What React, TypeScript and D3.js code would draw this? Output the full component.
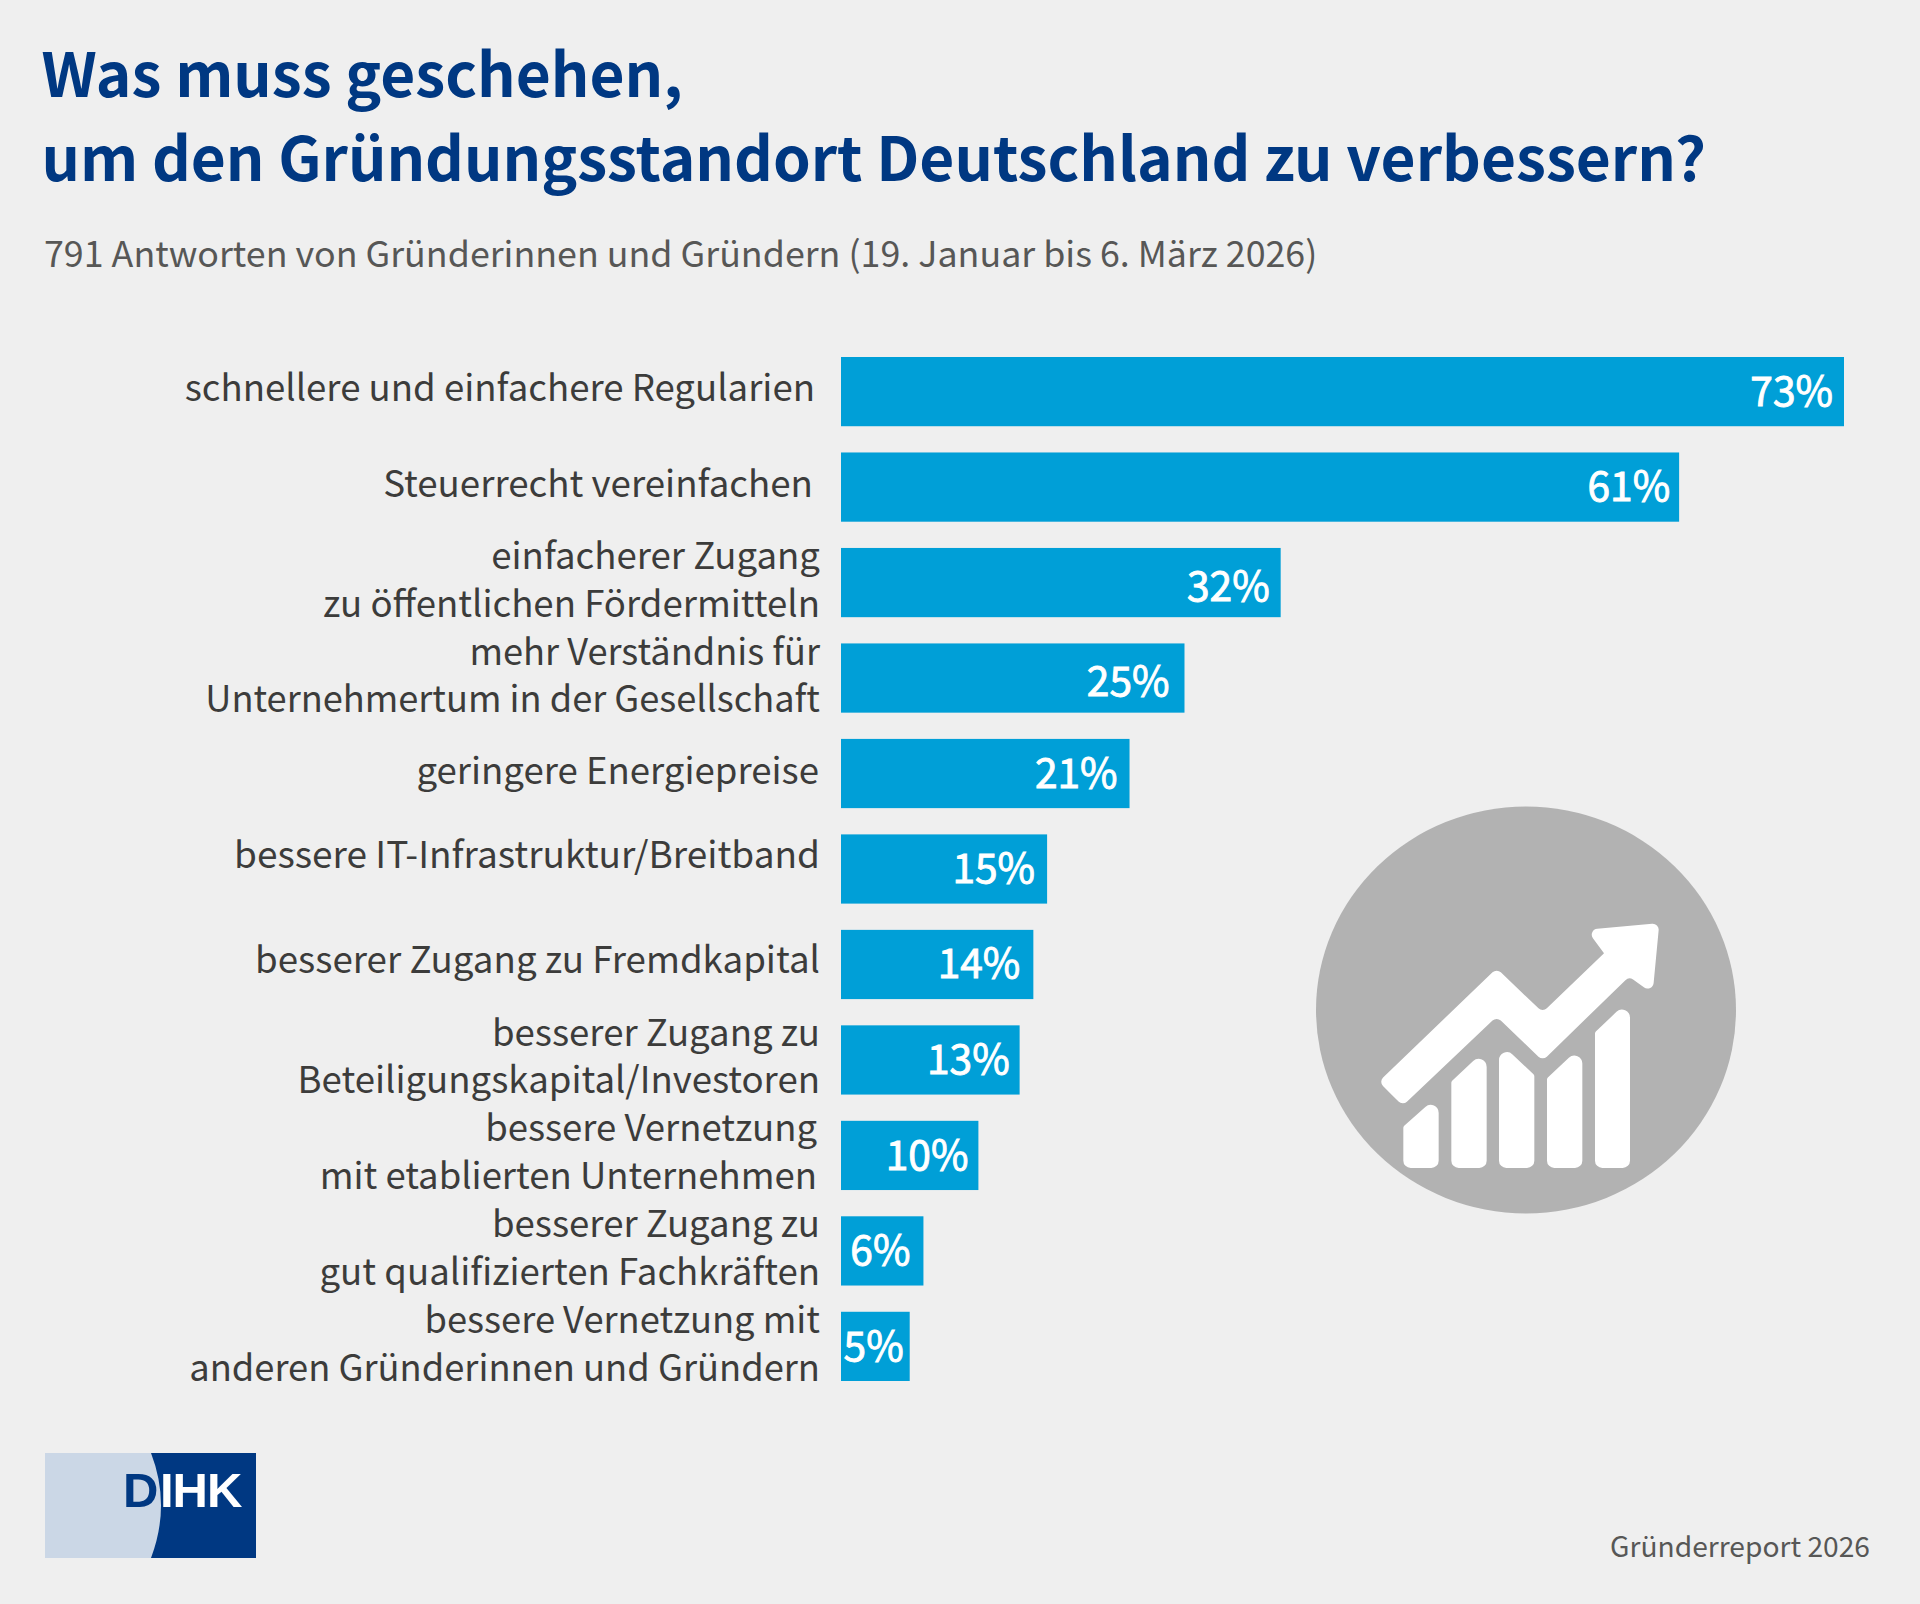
import React from 'react';
import * as d3 from 'd3';

const labels = [
  ['schnellere und einfachere Regularien'],
  ['Steuerrecht vereinfachen'],
  ['einfacherer Zugang', 'zu öffentlichen Fördermitteln'],
  ['mehr Verständnis für', 'Unternehmertum in der Gesellschaft'],
  ['geringere Energiepreise'],
  ['bessere IT-Infrastruktur/Breitband'],
  ['besserer Zugang zu Fremdkapital'],
  ['besserer Zugang zu', 'Beteiligungskapital/Investoren'],
  ['bessere Vernetzung', 'mit etablierten Unternehmen'],
  ['besserer Zugang zu', 'gut qualifizierten Fachkräften'],
  ['bessere Vernetzung mit', 'anderen Gründerinnen und Gründern'],
];
const values = [73, 61, 32, 25, 21, 15, 14, 13, 10, 6, 5];
const titleLines = ['Was muss geschehen,', 'um den Gründungsstandort Deutschland zu verbessern?'];
const subtitle = '791 Antworten von Gründerinnen und Gründern (19. Januar bis 6. März 2026)';
const source = 'Gründerreport 2026';

const font = '"Noto Sans CJK SC", "Noto Sans", sans-serif';
const logoFont = '"Liberation Sans", sans-serif';
const blue = '#009fd7';
const navy = '#003882';

// the original placed its texts by hand, so each row has its own small offset
const labelDx = [-5, -7, 0, 0, -1, 0, 0, 0, -3, 0, 0];
const labelDy = [0, 0, 1, 1, 1, -11, -1, 0, 0, 0.5, 1];
const labelSize = [36.6, 36.7, 36.6, 36.2, 36.6, 37, 36.7, 36.6, 36.5, 36.6, 36.3];
const valueDx = [11, 9, 11, 15, 12, 12, 13, 10, 10, 13, 6];
const valueDy = [0, 0, 4, 4, 0, 0, 0, 0, 1, 0, 1];

const x = d3.scaleLinear().domain([0, 73]).range([841, 1844]);
const y = d3.scaleBand<number>().domain(d3.range(values.length)).range([357, 1381]).paddingInner(0.275).paddingOuter(0);

type Corner = [number, number, number];

// closed outline with a radius per corner
function rounded(points: Corner[]) {
  const n = points.length;
  const p = d3.path();
  const [ax, ay] = points[0];
  const [bx, by] = points[n - 1];
  p.moveTo((ax + bx) / 2, (ay + by) / 2);
  for (let i = 0; i < n; i++) {
    const [cx, cy, r] = points[i];
    const [nx, ny] = points[(i + 1) % n];
    p.arcTo(cx, cy, nx, ny, r);
  }
  p.closePath();
  return p.toString();
}

const iconArrow: Corner[] = [
  [296, 905, 18], [650, 565, 18], [788, 697, 18], [972, 520, 1], [920, 449, 18],
  [1138, 429, 18], [1118, 640, 18], [1047, 590, 18], [788, 842, 18], [650, 710, 18],
  [368, 977, 18],
];
const iconBars: Corner[][] = [
  [[370, 1164, 22], [370, 1040, 8], [476, 945, 24], [476, 1164, 22]],
  [[514, 1164, 22], [514, 905, 8], [620, 805, 24], [620, 1164, 22]],
  [[657, 1164, 22], [657, 785, 24], [763, 885, 8], [763, 1164, 22]],
  [[801, 1164, 22], [801, 895, 8], [907, 795, 24], [907, 1164, 22]],
  [[945, 1164, 22], [945, 757, 8], [1050, 657, 24], [1050, 1164, 22]],
];

export default function App() {
  return (
    <svg width={1920} height={1604} viewBox="0 0 1920 1604" style={{ position: 'absolute', left: 0, top: 0, background: '#efefef', fontFamily: font }}>
      <rect width={1920} height={1604} fill="#efefef" />
      {titleLines.map((t, i) => (
        <text key={t} x={41.5} y={97 + i * 83.5} fontSize={60.4} fontWeight={700} fill={navy}>{t}</text>
      ))}
      <text x={44} y={266.5} fontSize={35.8} fill="#575756">{subtitle}</text>

      {values.map((v, i) => {
        const cy = y(i)! + y.bandwidth() / 2;
        const lines = labels[i];
        return (
          <g key={i}>
            <rect x={x(0)} y={y(i)} width={x(v) - x(0)} height={y.bandwidth()} fill={blue} />
            {/* no semibold cut installed, a thin stroke stands in for it */}
            <text x={x(v) - valueDx[i]} y={cy + 14 + valueDy[i]} textAnchor="end" fontSize={40.7} fill="#fff" stroke="#fff" strokeWidth={0.9}>{v}%</text>
            {lines.map((l, j) => (
              <text key={l} x={820 + labelDx[i]} y={cy + 9.5 + labelDy[i] + (j - (lines.length - 1) / 2) * 47.7} textAnchor="end" fontSize={labelSize[i]} fill="#3c3c3b">{l}</text>
            ))}
          </g>
        );
      })}

      <ellipse cx={1526} cy={1010} rx={210} ry={203.4} fill="#b2b2b2" />
      <g fill="#fff" transform="translate(1280,780) scale(0.33333)">
        <path d={rounded(iconArrow)} />
        {iconBars.map((b, i) => <path key={i} d={rounded(b)} />)}
      </g>

      <rect x={45} y={1453} width={211} height={105} fill="#cbd7e6" />
      <path d="M151 1453 H256 V1558 H151 Q171 1505 151 1453 Z" fill={navy} />
      <text x={123} y={1507} fontSize={49} fontWeight={700} fontFamily={logoFont} fill={navy}>D</text>
      <text x={160} y={1507} fontSize={49} fontWeight={700} letterSpacing={-1} fontFamily={logoFont} fill="#fff">IHK</text>

      <text x={1870} y={1557} textAnchor="end" fontSize={28.2} fill="#575756">{source}</text>
    </svg>
  );
}
